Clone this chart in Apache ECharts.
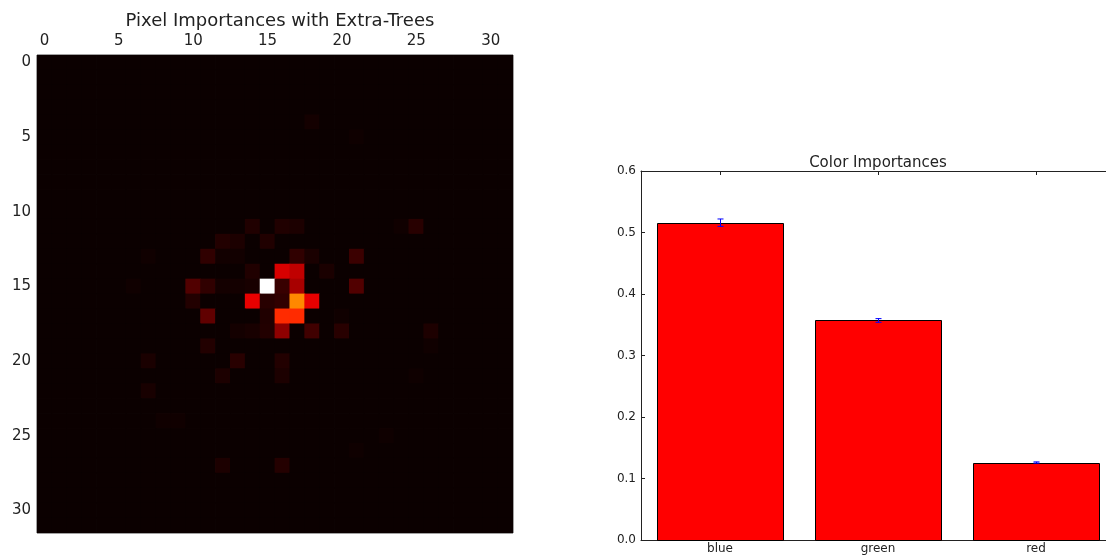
<!DOCTYPE html>
<html>
<head>
<meta charset="utf-8">
<script src="https://cdn.jsdelivr.net/npm/echarts@6/dist/echarts.min.js"></script>
<style>html,body{margin:0;padding:0;background:#fff;}#c{width:1106px;height:556px;}</style>
</head>
<body>
<div id="c"></div>
<script>
// ---- DATA ----
const gridSize = 32;
const pixelTicks = ['0','5','10','15','20','25','30'];
// sparse non-background cells: [row, col, importance (normalised)]
const pixelCells = [
  [4,18,0.014],[5,21,0.006],
  [11,14,0.032],[11,16,0.032],[11,17,0.026],[11,24,0.008],[11,25,0.044],
  [12,12,0.035],[12,13,0.026],[12,15,0.032],
  [13,7,0.008],[13,11,0.056],[13,12,0.011],[13,13,0.011],[13,17,0.056],[13,18,0.023],[13,21,0.072],
  [14,14,0.032],[14,16,0.307],[14,17,0.271],[14,19,0.023],
  [15,6,0.008],[15,10,0.104],[15,11,0.056],[15,12,0.014],[15,13,0.014],[15,14,0.020],[15,15,1.0],[15,16,0.068],[15,17,0.235],[15,21,0.104],
  [16,10,0.035],[16,14,0.331],[16,15,0.044],[16,16,0.056],[16,17,0.568],[16,18,0.331],
  [17,11,0.128],[17,15,0.032],[17,16,0.43],[17,17,0.43],[17,20,0.008],
  [18,13,0.014],[18,14,0.020],[18,15,0.035],[18,16,0.199],[18,18,0.080],[18,20,0.044],[18,26,0.028],
  [19,11,0.035],[19,26,0.008],
  [20,7,0.023],[20,13,0.044],[20,16,0.035],
  [21,12,0.026],[21,16,0.026],[21,25,0.006],
  [22,7,0.020],
  [24,8,0.008],[24,9,0.008],
  [25,23,0.006],[26,21,0.006],
  [27,12,0.026],[27,16,0.038]
];
const colorCategories = ['blue','green','red'];
const colorImportances = [0.516, 0.357, 0.126];
const colorErrors = [0.006, 0.003, 0.001];
const yTickValues = [0.0,0.1,0.2,0.3,0.4,0.5,0.6];

// ---- build ----
const axisCats = [];
for (let i = 0; i < gridSize; i++) axisCats.push(String(i));
const cellMap = {};
pixelCells.forEach(c => { cellMap[c[0] + '_' + c[1]] = c[2]; });
const heatData = [];
for (let r = 0; r < gridSize; r++) {
  for (let c = 0; c < gridSize; c++) {
    const v = cellMap[r + '_' + c];
    heatData.push([c, r, v === undefined ? 0 : v]);
  }
}
// matplotlib 'hot' colormap
function hot(v) {
  const r = v < 0.365079 ? 0.0416 + (1 - 0.0416) * v / 0.365079 : 1;
  const g = v < 0.365079 ? 0 : (v < 0.746032 ? (v - 0.365079) / (0.746032 - 0.365079) : 1);
  const b = v < 0.746032 ? 0 : (v - 0.746032) / (1 - 0.746032);
  const h = x => Math.round(Math.max(0, Math.min(1, x)) * 255).toString(16).padStart(2, '0');
  return '#' + h(r) + h(g) + h(b);
}
const hotStops = [];
for (let i = 0; i <= 40; i++) hotStops.push(hot(i / 40));

const catIdx = colorCategories.map((_, i) => i);
const FONT = 'DejaVu Sans';
const chart = echarts.init(document.getElementById('c'), null, {renderer: 'canvas'});
chart.setOption({
  backgroundColor: '#ffffff',
  animation: false,
  textStyle: {fontFamily: FONT},
  title: [
    {text: 'Pixel Importances with Extra-Trees', left: 275, top: 7, textAlign: 'center',
     textStyle: {fontFamily: FONT, fontSize: 18, fontWeight: 'normal', color: '#222'}},
    {text: 'Color Importances', left: 873, top: 151, textAlign: 'center',
     textStyle: {fontFamily: FONT, fontSize: 15, fontWeight: 'normal', color: '#222'}}
  ],
  grid: [
    {left: 37, top: 55, width: 476, height: 478, show: true, borderColor: '#444', borderWidth: 1, backgroundColor: 'transparent'},
    {left: 641, top: 171, right: 0, height: 369, show: false}
  ],
  xAxis: [
    {gridIndex: 0, type: 'category', data: axisCats, position: 'top',
     axisLine: {show: false}, axisTick: {show: false}, splitLine: {show: false},
     axisLabel: {interval: 4, fontFamily: FONT, fontSize: 15, color: '#222', margin: 6}},
    {gridIndex: 1, type: 'value', min: -0.5, max: -0.5 + 465 / 158, position: 'bottom',
     axisLine: {show: true, onZero: false, lineStyle: {color: '#222'}},
     splitLine: {show: false},
     axisTick: {show: true, inside: true, length: 4, customValues: catIdx, lineStyle: {color: '#222'}},
     axisLabel: {customValues: catIdx, fontFamily: FONT, fontSize: 12, color: '#222', margin: 3,
       formatter: v => colorCategories[Math.round(v)]}},
    {gridIndex: 1, type: 'value', min: -0.5, max: -0.5 + 465 / 158, position: 'top',
     axisLine: {show: true, onZero: false, lineStyle: {color: '#222'}},
     splitLine: {show: false},
     axisTick: {show: true, inside: true, length: 4, customValues: catIdx, lineStyle: {color: '#222'}},
     axisLabel: {show: false}}
  ],
  yAxis: [
    {gridIndex: 0, type: 'category', data: axisCats, inverse: true,
     axisLine: {show: false}, axisTick: {show: false}, splitLine: {show: false},
     axisLabel: {interval: 4, fontFamily: FONT, fontSize: 15, color: '#222', margin: 6}},
    {gridIndex: 1, type: 'value', min: 0, max: 0.6, interval: 0.1,
     axisLine: {show: true, onZero: false, lineStyle: {color: '#222'}},
     axisTick: {show: true, inside: true, length: 4, lineStyle: {color: '#222'}},
     splitLine: {show: false},
     axisLabel: {fontFamily: FONT, fontSize: 12, color: '#222', margin: 5, formatter: v => v.toFixed(1)}}
  ],
  visualMap: {show: false, min: 0, max: 1, dimension: 2, seriesIndex: 0, inRange: {color: hotStops}},
  series: [
    {type: 'custom', xAxisIndex: 0, yAxisIndex: 0, data: heatData,
     renderItem: function (params, api) {
       const p = api.coord([api.value(0), api.value(1)]);
       const s = api.size([1, 1]);
       return {type: 'rect', shape: {x: p[0] - s[0] / 2 - 0.4, y: p[1] - s[1] / 2 - 0.4, width: s[0] + 0.8, height: s[1] + 0.8},
               style: {fill: api.visual('color')}};
     }, clip: true, z: 1},
    {type: 'custom', xAxisIndex: 1, yAxisIndex: 1,
     data: colorImportances.map((v, i) => [i, v]),
     renderItem: function (params, api) {
       const i = api.value(0), v = api.value(1);
       const tl = api.coord([i - 0.4, v]);
       const br = api.coord([i + 0.4, 0]);
       return {type: 'rect', shape: {x: Math.round(tl[0]) + 0.5, y: Math.round(tl[1]) + 0.5,
                 width: Math.round(br[0] - tl[0]), height: Math.round(br[1] - tl[1])},
               style: {fill: '#ff0000', stroke: '#000', lineWidth: 1}};
     }, z: 3},
    {type: 'custom', xAxisIndex: 1, yAxisIndex: 1,
     data: colorImportances.map((v, i) => [i, v, colorErrors[i]]),
     renderItem: function (params, api) {
       const i = api.value(0), v = api.value(1), e = api.value(2);
       const top = api.coord([i, v + e]);
       const bot = api.coord([i, v - e]);
       const cap = 3;
       const x = Math.round(top[0]) + 0.5;
       const st = {stroke: '#0000ff', lineWidth: 1};
       return {type: 'group', children: [
         {type: 'line', shape: {x1: x, y1: top[1], x2: x, y2: bot[1]}, style: st},
         {type: 'line', shape: {x1: x - cap, y1: top[1], x2: x + cap, y2: top[1]}, style: st},
         {type: 'line', shape: {x1: x - cap, y1: bot[1], x2: x + cap, y2: bot[1]}, style: st}
       ]};
     }, z: 5}
  ]
});
</script>
</body>
</html>
